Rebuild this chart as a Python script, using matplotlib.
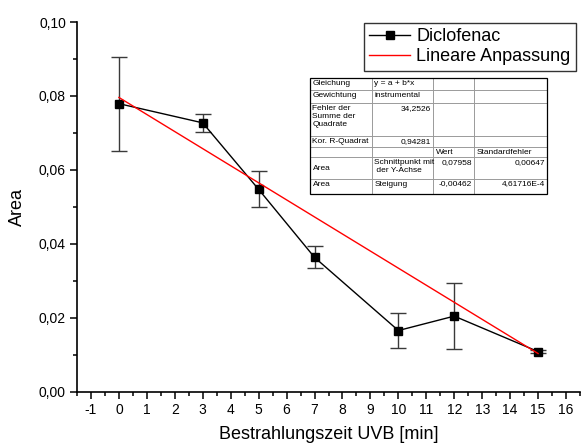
import matplotlib
matplotlib.use("Agg")
import matplotlib.pyplot as plt
from matplotlib.ticker import MultipleLocator, FuncFormatter
from matplotlib.lines import Line2D
import numpy as np

plt.rcParams['font.family'] = ['Liberation Sans', 'DejaVu Sans']

# Measured data
time_min = [0, 3, 5, 7, 10, 12, 15]
area = [0.0779, 0.0727, 0.0547, 0.0363, 0.0165, 0.0204, 0.0108]
area_err = [0.0127, 0.0024, 0.0049, 0.0030, 0.0047, 0.0090, 0.0003]

# Linear fit parameters
fit_a = 0.07958
fit_b = -0.00462
fit_range = [0, 15]

# Fit summary table
table_rows = [
    ["Gleichung", "y = a + b*x", "", ""],
    ["Gewichtung", "instrumental", "", ""],
    ["Fehler der\nSumme der\nQuadrate", "34,2526", "", ""],
    ["Kor. R-Quadrat", "0,94281", "", ""],
    ["", "", "Wert", "Standardfehler"],
    ["Area", "Schnittpunkt mit\n der Y-Achse", "0,07958", "0,00647"],
    ["Area", "Steigung", "-0,00462", "4,61716E-4"],
]

W, H = 583, 448
fig = plt.figure(figsize=(W / 100, H / 100), dpi=100)
ax = fig.add_axes([77 / W, 1 - 391.5 / H, (580 - 77) / W, (391.5 - 22) / H])

ax.errorbar(time_min, area, yerr=area_err, color='black', lw=1.0,
            marker='s', markersize=6, ecolor='#3a3a3a', elinewidth=1.0,
            capsize=5.5, capthick=1.0, zorder=3)
fx = np.array(fit_range, dtype=float)
ax.plot(fx, fit_a + fit_b * fx, color='red', lw=1.0, zorder=4)

ax.set_xlim(-1.5, 16.5)
ax.set_ylim(0, 0.10)
ax.xaxis.set_major_locator(MultipleLocator(1))
ax.xaxis.set_minor_locator(MultipleLocator(0.5))
ax.yaxis.set_major_locator(MultipleLocator(0.02))
ax.yaxis.set_minor_locator(MultipleLocator(0.01))
ax.yaxis.set_major_formatter(FuncFormatter(lambda v, p: f"{v:.2f}".replace('.', ',')))
ax.xaxis.set_major_formatter(FuncFormatter(lambda v, p: f"{int(round(v))}"))
for s in ['top', 'right']:
    ax.spines[s].set_visible(False)
for s in ['left', 'bottom']:
    ax.spines[s].set_linewidth(1.2)
ax.tick_params(which='major', direction='out', length=5, width=1.1, labelsize=10, pad=3)
ax.tick_params(which='minor', direction='out', length=3, width=1.1)
ax.set_xlabel("Bestrahlungszeit UVB [min]", fontsize=13, labelpad=7)
ax.set_ylabel("Area", fontsize=13, labelpad=9)

# Legend
handles = [Line2D([], [], color='black', lw=1.0, marker='s', markersize=6),
           Line2D([], [], color='red', lw=1.0)]
leg = fig.legend(handles, ["Diclofenac", "Lineare Anpassung"],
                 loc='upper left', bbox_to_anchor=(364 / W, 1 - 23 / H),
                 fontsize=13, frameon=True, fancybox=False, edgecolor='black',
                 handlelength=2.25, handletextpad=0.35, borderpad=0.3,
                 labelspacing=0.15, borderaxespad=0, handleheight=0.7)
leg.get_frame().set_linewidth(1.0)


def fxy(x, y):
    return x / W, 1 - y / H


# Summary table drawn on the figure
col_edges = [310, 372, 433, 474, 547]
row_edges = [78, 90.5, 103.5, 136.5, 147.5, 157.5, 179, 194]
grey = '#9a9a9a'
fig.add_artist(plt.Rectangle(fxy(col_edges[0], row_edges[-1]),
                             (col_edges[-1] - col_edges[0]) / W,
                             (row_edges[-1] - row_edges[0]) / H,
                             fill=True, facecolor='white', edgecolor='none',
                             transform=fig.transFigure, zorder=5))
for yv in row_edges[1:-1]:
    fig.add_artist(Line2D([col_edges[0] / W, col_edges[-1] / W],
                          [1 - yv / H, 1 - yv / H], color=grey, lw=0.7,
                          transform=fig.transFigure, zorder=6))
for xv in col_edges[1:-1]:
    fig.add_artist(Line2D([xv / W, xv / W], [1 - row_edges[0] / H, 1 - row_edges[-1] / H],
                          color=grey, lw=0.7, transform=fig.transFigure, zorder=6))
fig.add_artist(plt.Rectangle(fxy(col_edges[0], row_edges[-1]),
                             (col_edges[-1] - col_edges[0]) / W,
                             (row_edges[-1] - row_edges[0]) / H,
                             fill=False, edgecolor='black', lw=0.9,
                             transform=fig.transFigure, zorder=7))

right_cells = {(2, 1), (3, 1), (5, 2), (5, 3), (6, 2), (6, 3)}
for r, row in enumerate(table_rows):
    top = row_edges[r]
    bot = row_edges[r + 1]
    for c, txt in enumerate(row):
        if not txt:
            continue
        if (r, c) in right_cells:
            x = col_edges[c + 1] - 2
            ha = 'right'
        else:
            x = col_edges[c] + 2.5
            ha = 'left'
        if r == 5 and c == 0:
            y, va = (top + bot) / 2, 'center'
        else:
            y, va = top + 1.5, 'top'
        fig.text(*fxy(x, y), txt, fontsize=6.0, ha=ha, va=va, linespacing=1.15,
                 zorder=8)

fig.savefig("out.png", dpi=100)
